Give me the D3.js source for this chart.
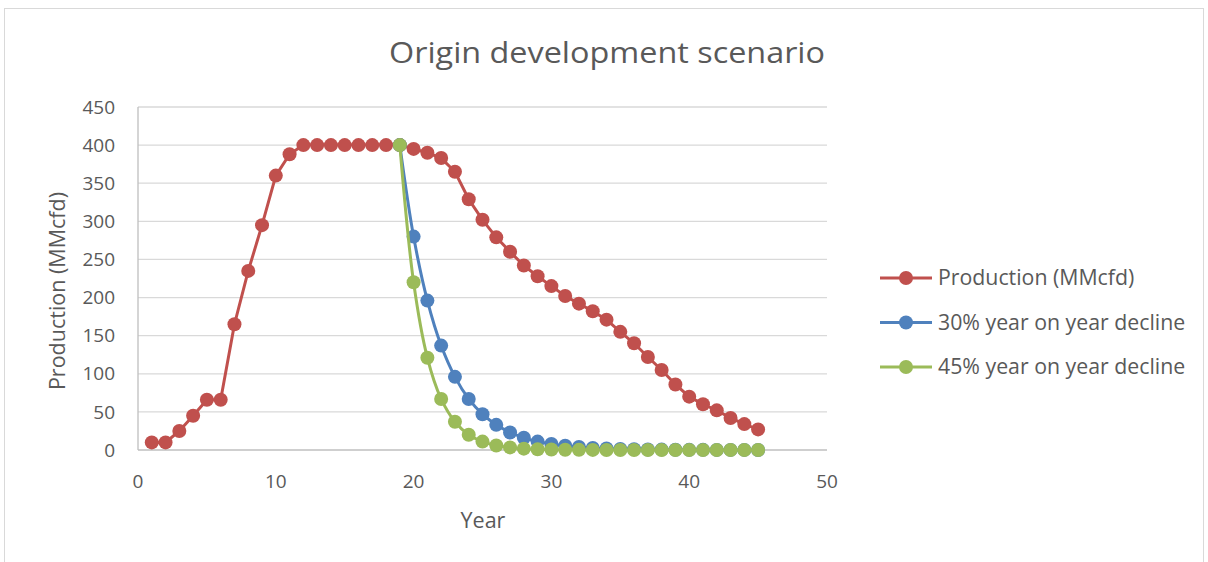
<!DOCTYPE html>
<html><head><meta charset="utf-8">
<script src="https://cdn.jsdelivr.net/npm/d3@7"></script>
<style>body{margin:0;background:#fff}svg{display:block}text{font-family:"Open Sans","Noto Sans",sans-serif;fill:#595959}</style>
</head><body><svg id="c" width="1208" height="562"></svg>
<script>
const years = d3.range(1, 46);
const production = [10,10,25,45,66,66,165,235,295,360,388,400,400,400,400,400,400,400,400,395,390,383,365,329,302,279,260,242,228,215,202,192,182,171,155,140,122,105,86,70,60,52,42,34,27];
const decline30 = [400,280,196,137,96,67,47,33,23,16,11,8,5.5,3.9,2.7,1.9,1.3,0.9,0.6,0.5,0.3,0.2,0.2,0.1,0.1,0.1,0.05];
const decline45 = [400,220,121,67,37,20,11,6,3.4,1.8,1,0.6,0.3,0.2,0.1,0.05,0.03,0.02,0.01,0,0,0,0,0,0,0,0];
const declineYears = d3.range(19, 46);
const xTicks = [0,10,20,30,40,50];
const yTicks = [0,50,100,150,200,250,300,350,400,450];
const seriesNames = ["Production (MMcfd)","30% year on year decline","45% year on year decline"];
const colors = ["#C0504D","#4F81BD","#9BBB59"];

const svg = d3.select("#c");
svg.append("rect").attr("x",4.5).attr("y",8.5).attr("width",1199).attr("height",560).attr("fill","#fff").attr("stroke","#d9d9d9");

const x = d3.scaleLinear().domain([0,50]).range([138,827]);
const y = d3.scaleLinear().domain([0,450]).range([450,107]);

svg.append("g").selectAll("line").data(yTicks.filter(d=>d>0)).join("line")
  .attr("x1",x(0)).attr("x2",x(50)).attr("y1",d=>y(d)).attr("y2",d=>y(d))
  .attr("stroke","#d9d9d9").attr("stroke-width",1.3);
svg.append("line").attr("x1",x(0)).attr("x2",x(50)).attr("y1",y(0)).attr("y2",y(0)).attr("stroke","#bfbfbf").attr("stroke-width",1.3);
svg.append("line").attr("x1",x(0)).attr("x2",x(0)).attr("y1",y(0)).attr("y2",y(450)).attr("stroke","#bfbfbf").attr("stroke-width",1.3);

svg.append("g").selectAll("text").data(yTicks).join("text")
  .attr("x",115).attr("y",d=>y(d)).attr("dy","0.35em").attr("text-anchor","end")
  .attr("font-size",19).text(d=>d);
svg.append("g").selectAll("text").data(xTicks).join("text")
  .attr("x",d=>x(d)).attr("y",481).attr("dy","0.35em").attr("text-anchor","middle")
  .attr("font-size",19).text(d=>d);

svg.append("text").attr("x",607).attr("y",53).attr("dy","0.35em").attr("text-anchor","middle").attr("font-size",29).attr("textLength",436).attr("lengthAdjust","spacingAndGlyphs").text("Origin development scenario");
svg.append("text").attr("x",483).attr("y",520).attr("dy","0.35em").attr("text-anchor","middle").attr("font-size",21.5).text("Year");
svg.append("text").attr("transform","translate(57,291) rotate(-90)").attr("dy","0.35em").attr("text-anchor","middle").attr("font-size",21.5).text("Production (MMcfd)");

const series = [
  {vals: production, yrs: years, curve: d3.curveLinear},
  {vals: decline30, yrs: declineYears, curve: d3.curveCatmullRom.alpha(0.5)},
  {vals: decline45, yrs: declineYears, curve: d3.curveCatmullRom.alpha(0.5)}
];
series.forEach((s,i)=>{
  const pts = s.vals.map((v,j)=>[s.yrs[j], v]);
  const g = svg.append("g");
  g.append("path").attr("d", d3.line().x(d=>x(d[0])).y(d=>y(d[1])).curve(s.curve)(pts))
    .attr("fill","none").attr("stroke",colors[i]).attr("stroke-width",3);
  g.selectAll("circle").data(pts).join("circle").attr("cx",d=>x(d[0])).attr("cy",d=>y(d[1])).attr("r",7).attr("fill",colors[i]);
});
const leg = svg.append("g");
seriesNames.forEach((n,i)=>{
  const yy = 278 + i*44.5;
  leg.append("line").attr("x1",880).attr("x2",932).attr("y1",yy).attr("y2",yy).attr("stroke",colors[i]).attr("stroke-width",3);
  leg.append("circle").attr("cx",906).attr("cy",yy).attr("r",7).attr("fill",colors[i]);
  leg.append("text").attr("x",938).attr("y",yy).attr("dy","0.35em").attr("font-size",21.3).text(n);
});
</script></body></html>
